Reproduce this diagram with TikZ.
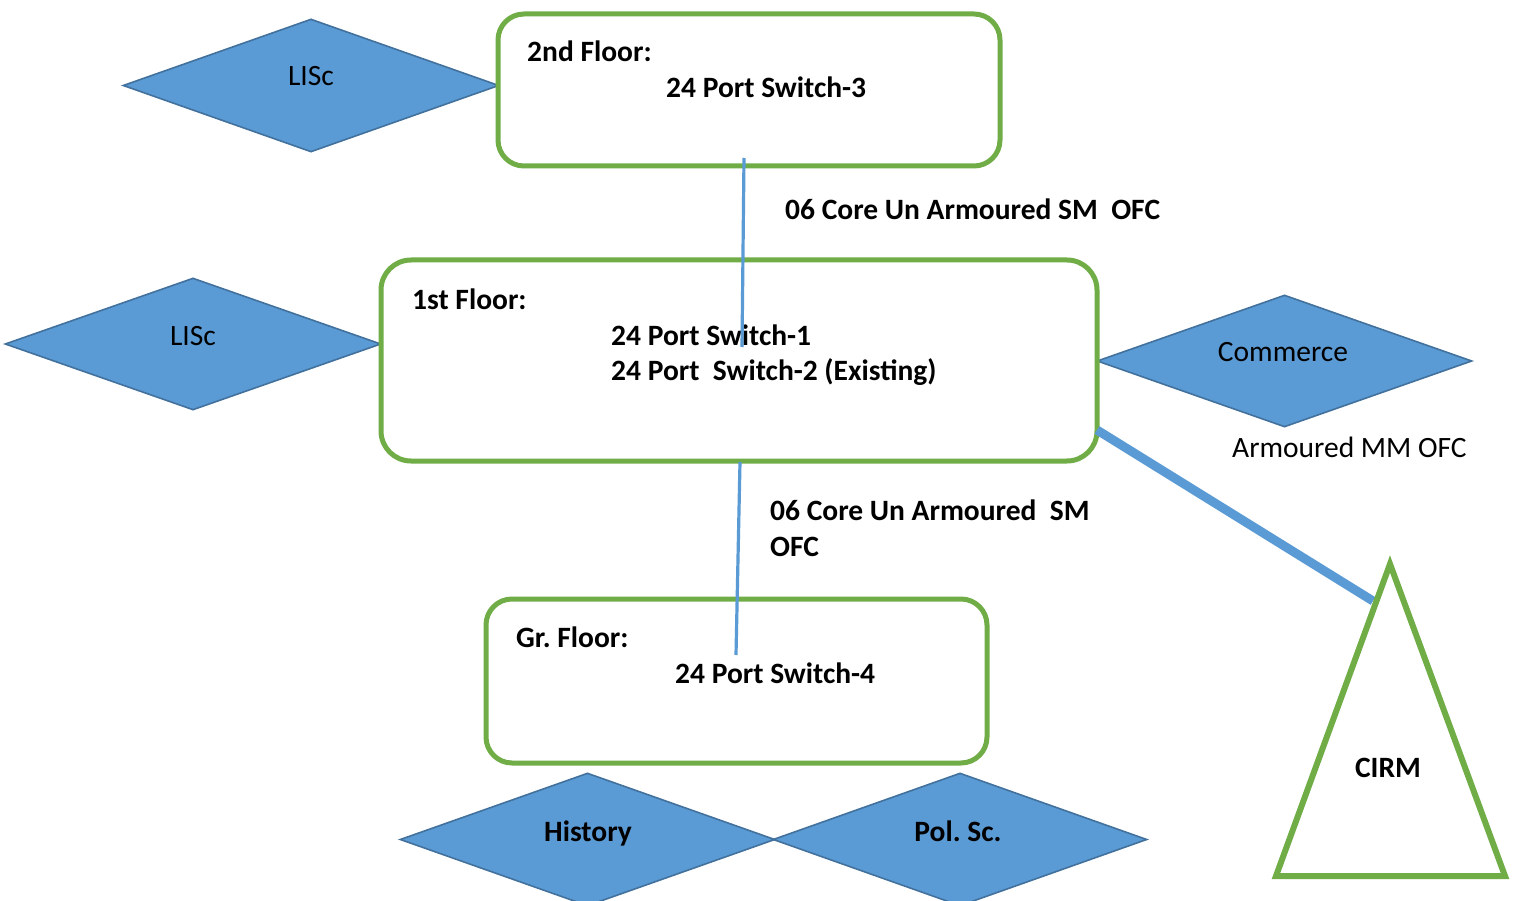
\documentclass[tikz,border=0pt]{standalone}
\usepackage{fontspec}
\setmainfont{Carlito}
\usetikzlibrary{shapes.geometric}
\definecolor{grn}{HTML}{70AD47}
\definecolor{blu}{HTML}{5B9BD5}
\definecolor{dblu}{HTML}{41719C}
\frenchspacing
\tikzset{
  floorbox/.style={draw=grn, line width=5pt, rounded corners=26pt, fill=white},
  dia/.style={diamond, draw=dblu, line width=1.6pt, fill=blu, inner sep=0pt},
  lbl/.style={anchor=base west, inner sep=0pt, font=\fontsize{29.5}{34}\selectfont\bfseries},
  rlbl/.style={anchor=base west, inner sep=0pt, font=\fontsize{29.5}{34}\selectfont},
  thin link/.style={draw=blu, line width=3.2pt},
  thick link/.style={draw=blu, line width=9pt}
}
\begin{document}
\begin{tikzpicture}[x=1pt,y=-1pt]
\clip (0,0) rectangle (1516,901);
\fill[white] (0,0) rectangle (1516,901);
% diamonds
\node[dia, minimum width=376pt, minimum height=133pt] (lisc2) at (311,85.5) {};
\node[rlbl, anchor=base] at (311,86) {LISc};
\node[dia, minimum width=376pt, minimum height=132pt] (lisc1) at (193,344) {};
\node[rlbl, anchor=base] at (193,345) {LISc};
\node[dia, minimum width=375pt, minimum height=132pt] (comm) at (1284.5,361) {};
\node[rlbl, anchor=base] at (1283,362) {Commerce};
\node[dia, minimum width=375pt, minimum height=133pt] (hist) at (587.5,839.5) {};
\node[lbl, anchor=base] at (588,841) {History};
\node[dia, minimum width=374pt, minimum height=133pt] (pol) at (960,839.5) {};
\node[lbl, anchor=base] at (958,841) {Pol. Sc.};
% boxes
\draw[floorbox] (498,14) rectangle (1000,166);
\draw[floorbox, rounded corners=30pt] (381,260) rectangle (1097,461);
\draw[floorbox] (486,599) rectangle (987,763);
\coordinate (f2) at (744,158);
\coordinate (f1a) at (742,347);
\coordinate (f1b) at (740,462);
\coordinate (gf) at (736,655);
\coordinate (f1r) at (1097,430);
\coordinate (cirmL) at (1373,601);
% texts
\node[lbl] at (527,62) {2nd Floor:};
\node[lbl] at (666,98) {24 Port Switch-3};
\node[lbl] at (785,220) {06 Core Un Armoured SM\ \ OFC};
\node[lbl] at (412,310) {1st Floor:};
\node[lbl] at (611,345) {24 Port Switch-1};
\node[lbl] at (611,381) {24 Port\ \ Switch-2 (Existing)};
\node[rlbl] at (1232,457) {Armoured MM OFC};
\node[lbl] at (770,520) {06 Core Un Armoured\ \ SM};
\node[lbl] at (770,556) {OFC};
\node[lbl] at (516,647) {Gr. Floor:};
\node[lbl] at (675,683) {24 Port Switch-4};
% links
\draw[thin link] (f2) -- (f1a);
\draw[thin link] (f1b) -- (gf);
\draw[thick link] (f1r) -- (cirmL);
% triangle
\coordinate (tA) at (1390,564);
\coordinate (tL) at (1276,876);
\coordinate (tR) at (1505,876);
\draw[grn, line width=6pt, fill=white, miter limit=10] (tA) -- (tR) -- (tL) -- cycle;
\node[lbl, anchor=base] (cirm) at (1388,777) {CIRM};
\end{tikzpicture}
\end{document}
